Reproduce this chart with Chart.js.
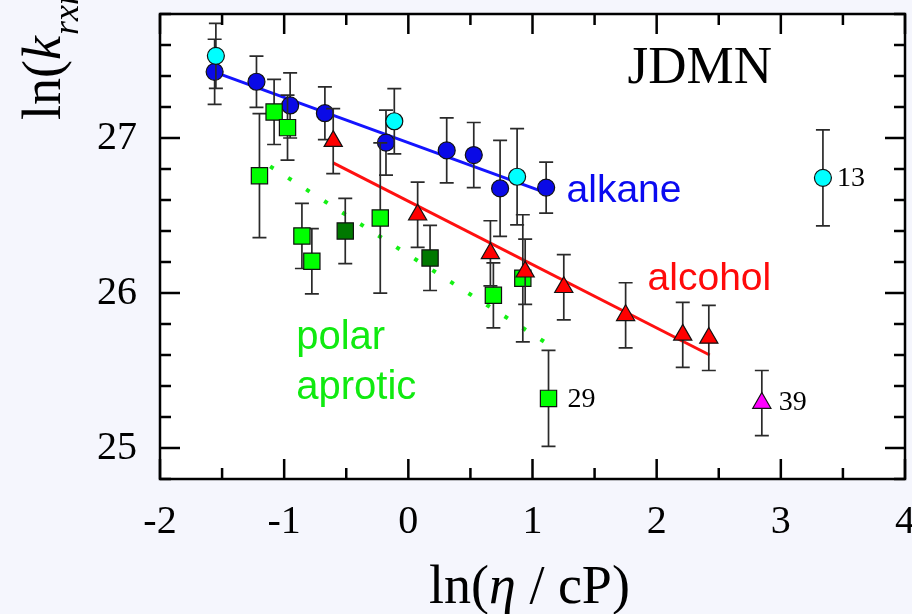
<!DOCTYPE html>
<html>
<head>
<meta charset="utf-8">
<script src="https://cdn.jsdelivr.net/npm/chart.js@4.4.1/dist/chart.umd.min.js"></script>
<style>
  html, body { margin: 0; padding: 0; background: #f5f6fd; }
  #wrap { width: 912px; height: 614px; }
</style>
</head>
<body>
<div id="wrap"><canvas id="rateChart" width="912" height="614"></canvas></div>
<script>
// axis ticks
const xTickValues = [-2, -1, 0, 1, 2, 3, 4];
const yTickValues = [25, 26, 27];

// alkanes (blue) and other alkanes (cyan)
const alkaneX   = [-1.56, -1.223, -0.952, -0.672, -0.18, 0.309, 0.527, 0.739, 1.110];
const alkaneY   = [27.427, 27.363, 27.21, 27.16, 26.97, 26.92, 26.89, 26.675, 26.68];
const alkaneErr = [0.21, 0.165, 0.21, 0.17, 0.21, 0.21, 0.21, 0.31, 0.165];

const cyanX   = [-1.55, -0.113, 0.876, 3.339];
const cyanY   = [27.53, 27.108, 26.75, 26.743];
const cyanErr = [0.21, 0.21, 0.31, 0.31];

// polar aprotic solvents
const aproticX   = [-1.199, -1.081, -0.973, -0.857, -0.777, -0.226, 0.685, 0.922, 1.129];
const aproticY   = [26.757, 27.168, 27.067, 26.368, 26.205, 26.484, 25.985, 26.095, 25.32];
const aproticErr = [0.40, 0.21, 0.21, 0.21, 0.21, 0.485, 0.21, 0.41, 0.31];

const darkX   = [-0.508, 0.175];
const darkY   = [26.40, 26.226];
const darkErr = [0.21, 0.21];

// alcohols
const alcoholX   = [-0.605, 0.075, 0.661, 0.941, 1.252, 1.75, 2.21, 2.42];
const alcoholY   = [26.98, 26.505, 26.256, 26.137, 26.037, 25.856, 25.73, 25.71];
const alcoholErr = [0.21, 0.21, 0.21, 0.21, 0.21, 0.21, 0.21, 0.21];

const outlierX   = [2.847];
const outlierY   = [25.29];
const outlierErr = [0.21];

// linear fits (end points)
const alkaneFitX  = [-1.56, 1.06];
const alkaneFitY  = [27.425, 26.66];
const alcoholFitX = [-0.605, 2.427];
const alcoholFitY = [26.839, 25.60];
const aproticFitX = [-1.113, 1.145];
const aproticFitY = [26.817, 25.66];

const SERIF = '"Liberation Serif", "Times New Roman", serif';
const SANS = '"Liberation Sans", Arial, sans-serif';

function toPoints(xs, ys) {
    return xs.map((x, i) => ({ x: x, y: ys[i] }));
}

function markers(label, xs, ys, errs, style, color, radius, order) {
    return {
        label: label,
        data: toPoints(xs, ys),
        errors: errs,
        showLine: false,
        pointStyle: style,
        pointRadius: radius,
        pointHoverRadius: radius,
        pointBackgroundColor: color,
        pointBorderColor: '#111',
        pointBorderWidth: 1.2,
        order: order
    };
}

function fitLine(label, xs, ys, color, dash, width) {
    return {
        label: label,
        data: toPoints(xs, ys),
        showLine: true,
        pointRadius: 0,
        pointHoverRadius: 0,
        borderColor: color,
        borderWidth: width,
        borderDash: dash,
        borderCapStyle: 'butt',
        fill: false,
        order: 10
    };
}

// labels placed in data coordinates
const notes = [
    { text: 'JDMN', x: 1.766, y: 27.353, font: '53px ' + SERIF, color: '#000', base: 'alphabetic' },
    { text: 'alkane', x: 1.274, y: 26.59, font: '39px ' + SANS, color: '#0a0af0', base: 'alphabetic' },
    { text: 'alcohol', x: 1.927, y: 26.017, font: '39px ' + SANS, color: '#ff0a0a', base: 'alphabetic' },
    { text: 'polar', x: -0.903, y: 25.637, font: '40px ' + SANS, color: '#10ea10', base: 'alphabetic' },
    { text: 'aprotic', x: -0.903, y: 25.314, font: '40px ' + SANS, color: '#10ea10', base: 'alphabetic' },
    { text: '13', x: 3.452, y: 26.74, font: '28px ' + SERIF, color: '#000', base: 'middle' },
    { text: '29', x: 1.282, y: 25.31, font: '28px ' + SERIF, color: '#000', base: 'middle' },
    { text: '39', x: 2.984, y: 25.29, font: '28px ' + SERIF, color: '#000', base: 'middle' }
];

const plotBackground = {
    id: 'plotBackground',
    beforeDraw(chart) {
        const a = chart.chartArea, ctx = chart.ctx;
        ctx.save();
        ctx.fillStyle = '#ffffff';
        ctx.fillRect(a.left, a.top, a.right - a.left, a.bottom - a.top);
        ctx.restore();
    }
};

// vertical error bars, drawn just before each dataset's markers
const errorBars = {
    id: 'errorBars',
    beforeDatasetDraw(chart, args) {
        const ds = chart.data.datasets[args.index];
        if (!ds.errors) return;
        const xs = chart.scales.x, ys = chart.scales.y, ctx = chart.ctx;
        ctx.save();
        ctx.strokeStyle = '#2a2a2a';
        ctx.lineWidth = 1.7;
        ds.data.forEach((p, i) => {
            const e = ds.errors[i];
            const px = xs.getPixelForValue(p.x);
            const top = ys.getPixelForValue(p.y + e);
            const bot = ys.getPixelForValue(p.y - e);
            ctx.beginPath();
            ctx.moveTo(px, top); ctx.lineTo(px, bot);
            ctx.moveTo(px - 7, top); ctx.lineTo(px + 7, top);
            ctx.moveTo(px - 7, bot); ctx.lineTo(px + 7, bot);
            ctx.stroke();
        });
        ctx.restore();
    }
};

// box with inward ticks on all four sides, text labels, axis titles
const frameAndText = {
    id: 'frameAndText',
    afterDraw(chart) {
        const a = chart.chartArea, ctx = chart.ctx;
        const xs = chart.scales.x, ys = chart.scales.y;
        ctx.save();
        ctx.strokeStyle = '#000';
        ctx.lineWidth = 2.5;
        ctx.strokeRect(a.left, a.top, a.right - a.left, a.bottom - a.top);

        ctx.beginPath();
        for (let v = xs.min; v <= xs.max + 1e-9; v += 0.5) {
            const px = xs.getPixelForValue(v);
            const len = Math.abs(v - Math.round(v)) < 1e-6 ? 20 : 11;
            ctx.moveTo(px, a.bottom); ctx.lineTo(px, a.bottom - len);
            ctx.moveTo(px, a.top); ctx.lineTo(px, a.top + len);
        }
        for (let v = ys.min; v <= ys.max + 1e-9; v += 0.2) {
            const py = ys.getPixelForValue(v);
            const len = Math.abs(v - Math.round(v)) < 1e-6 ? 20 : 11;
            ctx.moveTo(a.left, py); ctx.lineTo(a.left + len, py);
            ctx.moveTo(a.right, py); ctx.lineTo(a.right - len, py);
        }
        ctx.stroke();

        notes.forEach(n => {
            ctx.font = n.font;
            ctx.fillStyle = n.color;
            ctx.textAlign = 'left';
            ctx.textBaseline = n.base;
            ctx.fillText(n.text, xs.getPixelForValue(n.x), ys.getPixelForValue(n.y));
        });

        // x title: ln(η / cP)
        ctx.fillStyle = '#000';
        ctx.textBaseline = 'alphabetic';
        const parts = [
            { t: 'ln(', f: '54px ' + SERIF },
            { t: 'η', f: 'italic 54px ' + SERIF },
            { t: ' / cP)', f: '54px ' + SERIF }
        ];
        let total = 0;
        parts.forEach(p => { ctx.font = p.f; p.w = ctx.measureText(p.t).width; total += p.w; });
        let cx = 529.5 - total / 2;
        parts.forEach(p => { ctx.font = p.f; ctx.fillText(p.t, cx, 603); cx += p.w; });

        // y title: ln(k_rxn, rotated
        ctx.translate(60, 120);
        ctx.rotate(-Math.PI / 2);
        ctx.font = '54px ' + SERIF;
        ctx.fillText('ln(', 0, 0);
        let ty = ctx.measureText('ln(').width;
        ctx.font = 'italic 54px ' + SERIF;
        ctx.fillText('k', ty, 0);
        ty += ctx.measureText('k').width + 1;
        ctx.font = 'italic 36px ' + SERIF;
        ctx.fillText('rxn', ty, 18);
        ctx.restore();
    }
};

// keep the tick labels from pushing the plot area inward
function noScalePadding(s) {
    s.paddingLeft = 0;
    s.paddingRight = 0;
    s.paddingTop = 0;
    s.paddingBottom = 0;
}

const ctx = document.getElementById('rateChart').getContext('2d');
new Chart(ctx, {
    type: 'scatter',
    data: {
        datasets: [
            fitLine('alkane fit', alkaneFitX, alkaneFitY, '#1414ff', [], 3),
            fitLine('alcohol fit', alcoholFitX, alcoholFitY, '#ff1010', [], 3),
            fitLine('aprotic fit', aproticFitX, aproticFitY, '#14f014', [4, 17.4], 4),
            markers('alkane', alkaneX, alkaneY, alkaneErr, 'circle', '#0a0ae6', 8.5, 6),
            markers('alkane (other)', cyanX, cyanY, cyanErr, 'circle', '#00ffff', 8.5, 5),
            markers('polar aprotic', aproticX, aproticY, aproticErr, 'rect', '#00ff00', 11.5, 4),
            markers('polar aprotic (other)', darkX, darkY, darkErr, 'rect', '#007800', 11.5, 3),
            markers('alcohol', alcoholX, alcoholY, alcoholErr, 'triangle', '#ff0000', 10.5, 2),
            markers('alcohol (other)', outlierX, outlierY, outlierErr, 'triangle', '#ff00ff', 10.5, 1)
        ]
    },
    options: {
        responsive: false,
        animation: false,
        layout: { autoPadding: false, padding: { top: 14, right: 7, left: 0, bottom: 0 } },
        plugins: {
            legend: { display: false },
            tooltip: { enabled: false }
        },
        scales: {
            x: {
                type: 'linear',
                min: -2,
                max: 4,
                grid: { display: false, drawTicks: false, tickLength: 0 },
                border: { display: false },
                afterBuildTicks: s => { s.ticks = xTickValues.map(v => ({ value: v })); },
                afterFit: s => { s.height = 135; noScalePadding(s); },
                ticks: {
                    font: { family: SERIF, size: 40 },
                    color: '#000',
                    padding: 19,
                    maxRotation: 0
                }
            },
            y: {
                type: 'linear',
                min: 24.8,
                max: 27.8,
                grid: { display: false, drawTicks: false, tickLength: 0 },
                border: { display: false },
                afterBuildTicks: s => { s.ticks = yTickValues.map(v => ({ value: v })); },
                afterFit: s => { s.width = 160; noScalePadding(s); },
                ticks: {
                    font: { family: SERIF, size: 40 },
                    color: '#000',
                    padding: 23
                }
            }
        }
    },
    plugins: [plotBackground, errorBars, frameAndText]
});
</script>
</body>
</html>
